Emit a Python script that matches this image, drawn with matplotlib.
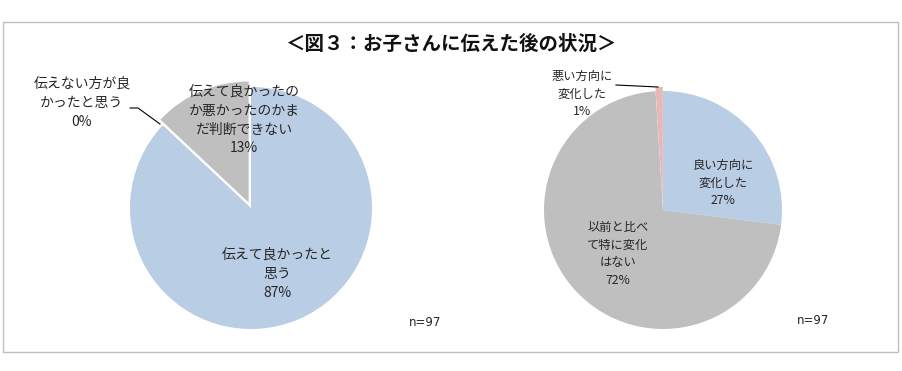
import matplotlib.pyplot as plt
from matplotlib.patches import Rectangle

plt.rcParams["font.family"] = ["Noto Sans CJK JP", "DejaVu Sans"]

W, H = 903, 371

title = "＜図３：お子さんに伝えた後の状況＞"

# left pie: 伝えた結果について
left_labels = ["伝えて良かったと\n思う", "伝えない方が良\nかったと思う", "伝えて良かったの\nか悪かったのかま\nだ判断できない"]
left_values = [87, 0, 13]
left_colors = ["#B9CDE5", "#B9CDE5", "#BFBFBF"]

# right pie: 伝えた後の変化
right_labels = ["良い方向に\n変化した", "以前と比べ\nて特に変化\nはない", "悪い方向に\n変化した"]
right_values = [27, 72, 1]
right_colors = ["#B9CDE5", "#BFBFBF", "#E6B9B8"]

n_text = "n=97"

TXT = "#262626"


def py(y):
    return H - y


fig = plt.figure(figsize=(W / 100, H / 100), dpi=100)
ax = fig.add_axes([0, 0, 1, 1])

# explode is in data units here (pixels), not a fraction of the radius
ax.pie(left_values, colors=left_colors, explode=[0, 0, 6], startangle=90,
       counterclock=False, center=(251, py(208)), radius=121,
       wedgeprops=dict(linewidth=0))
ax.pie(right_values, colors=right_colors, explode=[0, 0, 4], startangle=90,
       counterclock=False, center=(663, py(210)), radius=119,
       wedgeprops=dict(linewidth=0))

ax.set_xlim(0, W)
ax.set_ylim(0, H)
ax.set_aspect("equal")
ax.axis("off")

ax.add_patch(Rectangle((3, py(352)), 895, 330, fill=False, edgecolor="#BFBFBF", linewidth=1))
ax.text(451, py(44), title, ha="center", va="center", fontsize=14, fontweight="bold", color="#111111")

# data labels (pixel positions)
left_pos = [(277, 274), (82, 103), (244, 120)]
for lab, val, (x, y) in zip(left_labels, left_values, left_pos):
    ax.text(x, py(y), f"{lab}\n{val}%", ha="center", va="center", fontsize=10,
            color=TXT, linespacing=1.45)

right_pos = [(723, 183), (618, 254), (582, 94)]
for lab, val, (x, y) in zip(right_labels, right_values, right_pos):
    ax.text(x, py(y), f"{lab}\n{val}%", ha="center", va="center", fontsize=8.8,
            color=TXT, linespacing=1.45)

# leader lines for the small slices
ax.plot([130, 138, 160], [py(108), py(108), py(124)], color="black", linewidth=0.8)
ax.plot([616, 658], [py(85), py(87)], color="black", linewidth=0.8)

ax.text(425, py(323), n_text, ha="center", va="center", fontsize=8.5, color=TXT, family="DejaVu Sans")
ax.text(813, py(321), n_text, ha="center", va="center", fontsize=8.5, color=TXT, family="DejaVu Sans")

fig.savefig("out.png", dpi=100)
